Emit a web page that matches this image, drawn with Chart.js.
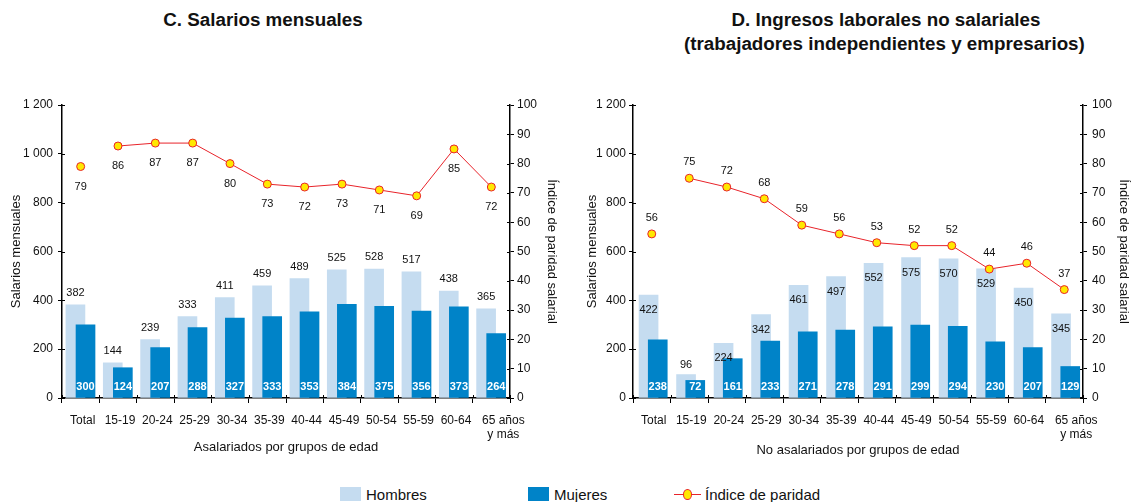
<!DOCTYPE html>
<html>
<head>
<meta charset="utf-8">
<script src="https://cdn.jsdelivr.net/npm/chart.js@4.4.1/dist/chart.umd.min.js"></script>
<style>
  body { margin: 0; background: #fff; font-family: "Liberation Sans", Arial, sans-serif; color: #111; }
  #page { position: relative; width: 1131px; height: 502px; overflow: hidden; }
  .titulo { position: absolute; font-weight: bold; font-size: 18.8px; text-align: center; white-space: nowrap; line-height: 24px; }
  .lienzo { position: absolute; top: 0; height: 465px; }
  .ley { position: absolute; font-size: 15px; line-height: 18px; }
  .caja { position: absolute; width: 21px; height: 14px; }
</style>
</head>
<body>
<div id="page">
  <div class="titulo" style="left:63px; width:400px; top:8px;">C. Salarios mensuales</div>
  <div class="titulo" style="left:686px; width:400px; top:8px;">D. Ingresos laborales no salariales</div>
  <div class="titulo" style="left:684px; width:400px; top:32px;">(trabajadores independientes y empresarios)</div>

  <div class="lienzo" style="left:0; width:572px;"><canvas id="chartC"></canvas></div>
  <div class="lienzo" style="left:572px; width:559px;"><canvas id="chartD"></canvas></div>

  <!-- leyenda común -->
  <div class="caja" style="left:340px; top:487px; background:#C5DCF0;"></div>
  <div class="ley" style="left:366px; top:486px;">Hombres</div>
  <div class="caja" style="left:528px; top:487px; background:#0083C8;"></div>
  <div class="ley" style="left:554px; top:486px;">Mujeres</div>
  <div style="position:absolute; left:674px; top:494px; width:27px; height:1px; background:#E8232A;"></div>
  <div style="position:absolute; left:683px; top:489px; width:7px; height:9px; border-radius:50%; background:#FFE800; border:1px solid #E8232A;"></div>
  <div class="ley" style="left:705px; top:486px;">Índice de paridad</div>
</div>

<script>
// categorías (grupos de edad)
var categorias = ['Total', '15-19', '20-24', '25-29', '30-34', '35-39', '40-44', '45-49', '50-54', '55-59', '60-64', '65 años\ny más'];

// C. Salarios mensuales (asalariados)
var hombresC = [382, 144, 239, 333, 411, 459, 489, 525, 528, 517, 438, 365];
var mujeresC = [300, 124, 207, 288, 327, 333, 353, 384, 375, 356, 373, 264];
var indiceC  = [79, 86, 87, 87, 80, 73, 72, 73, 71, 69, 85, 72];

// D. Ingresos laborales no salariales (no asalariados)
var hombresD = [422, 96, 224, 342, 461, 497, 552, 575, 570, 529, 450, 345];
var mujeresD = [238, 72, 161, 233, 271, 278, 291, 299, 294, 230, 207, 129];
var indiceD  = [56, 75, 72, 68, 59, 56, 53, 52, 52, 44, 46, 37];

var COLOR_H = '#C5DCF0';
var COLOR_M = '#0083C8';
var ROJO = '#E8232A';
var AMARILLO = '#FFE800';

Chart.defaults.font.family = '"Liberation Sans", Arial, sans-serif';
Chart.defaults.color = '#111';

function miles(v) {
    return String(v).replace(/\B(?=(\d{3})+(?!\d))/g, ' ');
}

// etiquetas de valores sobre barras y puntos
var etiquetas = {
    id: 'etiquetas',
    afterDatasetsDraw: function (chart, args, opts) {
        var ctx = chart.ctx;
        ctx.save();
        ctx.textAlign = 'center';
        ctx.textBaseline = 'middle';

        // hombres
        ctx.font = '11px "Liberation Sans", Arial, sans-serif';
        ctx.fillStyle = '#111';
        chart.getDatasetMeta(0).data.forEach(function (el, i) {
            var v = chart.data.datasets[0].data[i].y;
            var y;
            if (opts.hombres === 'dentro' && el.base - el.y > 30) {
                y = el.y + 15;
            } else {
                y = el.y - (opts.hombres === 'dentro' ? 10 : 12);
            }
            ctx.fillText(v, el.x, y);
        });

        // mujeres (blanco, abajo)
        ctx.font = 'bold 11px "Liberation Sans", Arial, sans-serif';
        ctx.fillStyle = '#fff';
        chart.getDatasetMeta(1).data.forEach(function (el, i) {
            ctx.fillText(chart.data.datasets[1].data[i].y, el.x, el.base - 11);
        });

        // índice
        ctx.font = '11px "Liberation Sans", Arial, sans-serif';
        ctx.fillStyle = '#111';
        chart.getDatasetMeta(2).data.forEach(function (el, i) {
            var y = opts.indice === 'arriba' ? el.y - 16 : el.y + 20;
            ctx.fillText(chart.data.datasets[2].data[i].y, el.x, y);
        });
        ctx.restore();
    }
};

// las marcas de los ejes cruzan la línea del eje
var marcasInternas = {
    id: 'marcasInternas',
    afterDraw: function (chart) {
        var ctx = chart.ctx;
        var sx = chart.scales.x, sy = chart.scales.y, sy1 = chart.scales.y1;
        ctx.save();
        ctx.strokeStyle = '#000';
        ctx.lineWidth = 1;
        ctx.beginPath();
        sy.ticks.forEach(function (t) {
            var p = Math.round(sy.getPixelForValue(t.value)) + 0.5;
            ctx.moveTo(sy.right, p); ctx.lineTo(sy.right + 3, p);
        });
        sy1.ticks.forEach(function (t) {
            var p = Math.round(sy1.getPixelForValue(t.value)) + 0.5;
            ctx.moveTo(sy1.left - 3, p); ctx.lineTo(sy1.left, p);
        });
        for (var i = 0; i <= categorias.length; i++) {
            var px = Math.round(sx.getPixelForValue(i - 0.5)) + 0.5;
            ctx.moveTo(px, sx.top - 3); ctx.lineTo(px, sx.top);
        }
        ctx.stroke();
        ctx.restore();
    }
};

function crearGrafico(id, hombres, mujeres, indice, p) {
    var ctx = document.getElementById(id).getContext('2d');
    return new Chart(ctx, {
        type: 'bar',
        data: {
            datasets: [{
                label: 'Hombres',
                data: hombres.map(function (v, i) { return { x: i + p.offH, y: v }; }),
                backgroundColor: COLOR_H,
                barThickness: 19,
                grouped: false,
                yAxisID: 'y',
                order: 3
            }, {
                label: 'Mujeres',
                data: mujeres.map(function (v, i) { return { x: i + p.offM, y: v }; }),
                backgroundColor: COLOR_M,
                barThickness: 19,
                grouped: false,
                yAxisID: 'y',
                order: 2
            }, {
                type: 'line',
                label: 'Índice de paridad',
                data: indice.map(function (v, i) { return { x: i, y: v }; }),
                borderColor: ROJO,
                borderWidth: 1,
                pointBackgroundColor: AMARILLO,
                pointBorderColor: ROJO,
                pointBorderWidth: 1,
                pointRadius: 4,
                segment: {
                    // el Total no se une al resto
                    borderColor: function (c) { return c.p0DataIndex === 0 ? 'rgba(0,0,0,0)' : ROJO; }
                },
                yAxisID: 'y1',
                order: 1
            }]
        },
        options: {
            responsive: true,
            maintainAspectRatio: false,
            animation: false,
            layout: { padding: { top: 105, left: 0, right: 0, bottom: 0 } },
            plugins: {
                legend: { display: false },
                tooltip: { enabled: false },
                etiquetas: { hombres: p.hombres, indice: p.indice }
            },
            scales: {
                x: {
                    type: 'linear',
                    min: -0.5,
                    max: 11.5,
                    offset: false,
                    afterBuildTicks: function (s) {
                        s.ticks = categorias.map(function (c, i) { return { value: i }; });
                    },
                    afterFit: function (s) { s.height = 67; },
                    grid: { offset: true, drawOnChartArea: false, tickLength: 5, color: '#000' },
                    border: { color: '#000', width: 1.5 },
                    ticks: {
                        autoSkip: false,
                        maxRotation: 0,
                        padding: 10,
                        labelOffset: 2,
                        font: { size: 12 },
                        callback: function (v) {
                            var c = categorias[Math.round(v)];
                            if (!c) return '';
                            var lineas = c.split('\n');
                            if (lineas.length > 1) {
                                // la última etiqueta va algo desplazada a la derecha
                                return lineas.map(function (l) { return '\u00a0\u00a0\u00a0\u00a0\u00a0\u00a0' + l; });
                            }
                            return c;
                        }
                    },
                    title: {
                        display: true,
                        text: p.tituloX,
                        font: { size: 13 },
                        padding: { top: 0, bottom: p.padTituloX }
                    }
                },
                y: {
                    position: 'left',
                    min: 0,
                    max: 1200,
                    afterFit: function (s) { s.width = p.anchoY; },
                    grid: { drawOnChartArea: false, tickLength: 4, color: '#000' },
                    border: { color: '#000', width: 1.5 },
                    ticks: { stepSize: 200, padding: p.padY, font: { size: 12 }, callback: miles },
                    title: { display: true, text: 'Salarios mensuales', font: { size: 13 }, padding: { top: p.padTituloY, bottom: 0 } }
                },
                y1: {
                    position: 'right',
                    min: 0,
                    max: 100,
                    afterFit: function (s) { s.width = p.anchoY1; },
                    grid: { drawOnChartArea: false, tickLength: 4, color: '#000' },
                    border: { color: '#000', width: 1.5 },
                    ticks: { stepSize: 10, padding: p.padY1, font: { size: 12 } },
                    title: { display: true, text: 'Índice de paridad salarial', font: { size: 13 }, padding: { top: p.padTituloY1, bottom: 0 } }
                }
            }
        },
        plugins: [etiquetas, marcasInternas]
    });
}

crearGrafico('chartC', hombresC, mujeresC, indiceC, {
    offH: -0.14, offM: 0.13,
    hombres: 'arriba', indice: 'abajo',
    tituloX: 'Asalariados por grupos de edad', padTituloX: 10,
    anchoY: 62, padY: 5, padTituloY: 9,
    anchoY1: 62, padY1: 3, padTituloY1: 13
});

crearGrafico('chartD', hombresD, mujeresD, indiceD, {
    offH: -0.085, offM: 0.16,
    hombres: 'dentro', indice: 'arriba',
    tituloX: 'No asalariados por grupos de edad', padTituloX: 7,
    anchoY: 61, padY: 3, padTituloY: 13,
    anchoY1: 48, padY1: 5, padTituloY1: 0
});
</script>
</body>
</html>
